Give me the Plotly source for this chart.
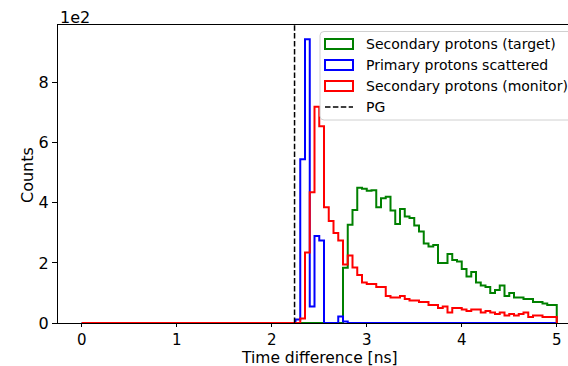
import numpy as np
import plotly.graph_objects as go

# Histogram binning: 100 bins of 0.05 ns between 0 and 5 ns
bin_edges = np.round(np.linspace(0.0, 5.0, 101), 4)

# Counts per bin for each population
target_counts = [0] * 55 + [
    184, 327, 376, 450, 447, 440, 442, 385, 415, 420,
    375, 330, 380, 355, 350, 325, 305, 265, 255, 260,
    200, 200, 230, 210, 205, 180, 155, 170, 135, 125,
    120, 100, 110, 125, 90, 100, 85, 85, 80, 80,
    70, 70, 65, 60, 60,
]
primary_counts = [0] * 45 + [12, 545, 945, 55, 290, 275, 0, 0, 0, 22, 5] + [0] * 44
monitor_counts = [0] * 46 + [
    15, 235, 435, 720, 655, 385, 340, 300, 275, 195,
    225, 185, 160, 135, 130, 130, 120, 120, 90, 85,
    85, 90, 80, 75, 75, 70, 70, 60, 60, 50,
    55, 35, 50, 50, 45, 40, 45, 45, 35, 40,
    35, 30, 35, 25, 30, 25, 30, 35, 20, 25,
    25, 20, 20, 20,
]
pg_time = 2.24

series_names = ["Secondary protons (target)", "Primary protons scattered",
                "Secondary protons (monitor)"]
series_counts = [target_counts, primary_counts, monitor_counts]
series_colors = ["#008000", "#0000ff", "#ff0000"]

y_ticks = [0, 200, 400, 600, 800]
y_tick_text = ["0", "2", "4", "6", "8"]
x_ticks = [0, 1, 2, 3, 4, 5]

W, H = 568, 366
ML, MR, MT, MB = 58, 0, 25, 43
PW, PH = W - ML - MR, H - MT - MB
FONT = "DejaVu Sans"


def px(x):
    return (x - ML) / PW


def py(y):
    return (H - MB - y) / PH


fig = go.Figure()

# Step outline of each histogram (closed down to zero at both ends)
for name, counts, color in zip(series_names, series_counts, series_colors):
    xs = [bin_edges[0]] + list(bin_edges)
    ys = [0] + list(counts) + [0]
    fig.add_trace(go.Scatter(
        x=xs, y=ys, mode="lines", name=name,
        line=dict(color=color, width=2, shape="hv"),
        showlegend=False, hoverinfo="skip",
    ))

y_max = max(max(c) for c in series_counts) * 1.05
x_lo = -0.05 * (bin_edges[-1] - bin_edges[0])
x_hi = bin_edges[-1] + (W - (ML + (0 - x_lo) * 95.0) - 5 * 95.0) / 95.0

# PG marker
fig.add_shape(type="line", xref="x", yref="paper", x0=pg_time, x1=pg_time,
              y0=0, y1=1, line=dict(color="black", width=1.5, dash="5.5px,2.4px"),
              layer="above")

# Legend box
bx0, bx1, by0, by1, r = 320, 576, 31.5, 120, 4
path = (
    f"M{px(bx0 + r)},{py(by0)} L{px(bx1 - r)},{py(by0)} "
    f"Q{px(bx1)},{py(by0)} {px(bx1)},{py(by0 + r)} "
    f"L{px(bx1)},{py(by1 - r)} Q{px(bx1)},{py(by1)} {px(bx1 - r)},{py(by1)} "
    f"L{px(bx0 + r)},{py(by1)} Q{px(bx0)},{py(by1)} {px(bx0)},{py(by1 - r)} "
    f"L{px(bx0)},{py(by0 + r)} Q{px(bx0)},{py(by0)} {px(bx0 + r)},{py(by0)} Z"
)
fig.add_shape(type="path", xref="paper", yref="paper", path=path,
              fillcolor="rgba(255,255,255,0.8)", line=dict(color="#d0d0d0", width=1),
              layer="above")

row_y = [44, 65, 86, 107]
legend_labels = series_names + ["PG"]
for i, label in enumerate(legend_labels):
    yc = row_y[i]
    if i < 3:
        fig.add_shape(type="rect", xref="paper", yref="paper",
                      x0=px(325), x1=px(353), y0=py(yc - 5), y1=py(yc + 5),
                      line=dict(color=series_colors[i], width=2),
                      fillcolor="rgba(0,0,0,0)", layer="above")
    else:
        fig.add_shape(type="line", xref="paper", yref="paper",
                      x0=px(325), x1=px(353), y0=py(yc), y1=py(yc),
                      line=dict(color="black", width=1.5, dash="5.5px,2.4px"),
                      layer="above")
    fig.add_annotation(xref="paper", yref="paper", x=px(364), y=py(yc),
                       text=label, showarrow=False, xanchor="left", yanchor="middle",
                       font=dict(family=FONT, size=14, color="black"))

# Axis offset label
fig.add_annotation(xref="paper", yref="paper", x=0, y=py(17), text="1e2",
                   showarrow=False, xanchor="left", yanchor="middle",
                   font=dict(family=FONT, size=16, color="black"))

# Axis titles
fig.add_annotation(xref="paper", yref="paper", x=px((ML + 581) / 2), y=py(357.5),
                   text="Time difference [ns]", showarrow=False,
                   xanchor="center", yanchor="middle", borderpad=0,
                   font=dict(family=FONT, size=15.5, color="black"))
fig.add_annotation(xref="paper", yref="paper", x=px(27), y=py(175),
                   text="Counts", showarrow=False, textangle=-90,
                   xanchor="center", yanchor="middle", borderpad=0,
                   font=dict(family=FONT, size=16, color="black"))

fig.update_layout(
    width=W, height=H,
    margin=dict(l=ML, r=MR, t=MT, b=MB),
    paper_bgcolor="white", plot_bgcolor="white",
    font=dict(family=FONT, size=16, color="black"),
    showlegend=False,
    xaxis=dict(
        range=[x_lo, x_hi], tickvals=x_ticks, ticks="outside", ticklen=3,
        tickcolor="black", showline=True, linecolor="black", linewidth=1,
        mirror=True, showgrid=False, zeroline=False, layer="below traces",
        tickfont=dict(family=FONT, size=15),
        automargin=False,
    ),
    yaxis=dict(
        range=[0, y_max], tickvals=y_ticks, ticktext=y_tick_text,
        ticks="outside", ticklen=5, tickcolor="black",
        showline=True, linecolor="black", linewidth=1, mirror=False,
        showgrid=False, zeroline=False, layer="below traces",
        tickfont=dict(family=FONT, size=16),
        automargin=False,
    ),
)

fig.write_html("out.html")
